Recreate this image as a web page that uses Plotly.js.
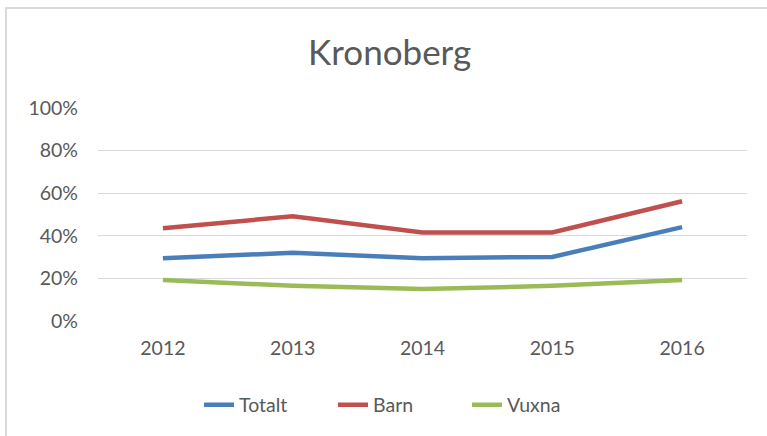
<!DOCTYPE html>
<html>
<head>
<meta charset="utf-8">
<script src="https://cdn.plot.ly/plotly-3.0.1.min.js"></script>
<style>
html,body{margin:0;padding:0;background:#fff;overflow:hidden;}
#chart{width:767px;height:436px;position:absolute;left:0;top:0;}
#frame{position:absolute;left:5px;top:7px;width:900px;height:600px;border-left:2px solid #d9d9d9;border-top:2px solid #d9d9d9;pointer-events:none;}
</style>
</head>
<body>
<div id="chart"></div>
<div id="frame"></div>
<script>
const years = ['2012', '2013', '2014', '2015', '2016'];
const totalt = [0.295, 0.32, 0.295, 0.301, 0.441];
const barn = [0.435, 0.492, 0.416, 0.416, 0.562];
const vuxna = [0.193, 0.165, 0.15, 0.165, 0.193];
const yTicks = [0, 0.2, 0.4, 0.6, 0.8, 1.0];

const font = 'Lato, "Open Sans", sans-serif';
const mk = (name, y, color) => ({
  type: 'scatter', mode: 'lines', name: name, x: years, y: y,
  line: {color: color, width: 4.5}, hoverinfo: 'skip'
});
const data = [
  mk('Totalt', totalt, '#4a7ebb'),
  mk('Barn', barn, '#c0504d'),
  mk('Vuxna', vuxna, '#9bbb59')
];
const layout = {
  width: 767, height: 436,
  margin: {l: 98, r: 20, t: 108, b: 115},
  paper_bgcolor: '#ffffff', plot_bgcolor: '#ffffff',
  font: {family: font, color: '#595959', size: 19},
  title: {text: 'Kronoberg', font: {family: font, size: 35, color: '#595959'},
          x: 0.508, xref: 'container', xanchor: 'center',
          y: 1 - 53/436, yref: 'container', yanchor: 'middle'},
  xaxis: {type: 'category', range: [-0.5, 4.5], showgrid: false, zeroline: false,
          showline: false, ticks: '', ticklabelstandoff: 13,
          tickfont: {size: 19.5, color: '#595959'}},
  yaxis: {range: [0, 1], tickvals: yTicks, tickformat: '.0%', showgrid: true,
          gridcolor: '#d9d9d9', gridwidth: 1, zeroline: false, showline: false,
          ticks: '', ticklabelstandoff: 19, tickfont: {size: 19.5, color: '#595959'}},
  showlegend: true,
  legend: {orientation: 'h', xref: 'container', x: 400/767, xanchor: 'center',
           yref: 'container', y: 1 - 405/436, yanchor: 'middle',
           font: {size: 19.5, color: '#595959'}, itemwidth: 30, tracegroupgap: 0,
           entrywidth: 89, entrywidthmode: 'pixels'}
};
Plotly.newPlot('chart', data, layout, {displayModeBar: false, staticPlot: true});
</script>
</body>
</html>
